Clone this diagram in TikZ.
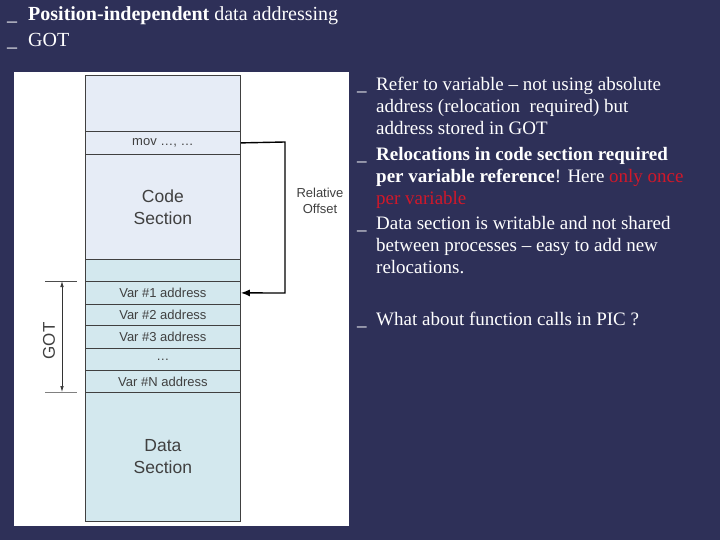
\documentclass[tikz,border=0pt]{standalone}
\usepackage{fontspec}
\setmainfont{Liberation Serif}
\setsansfont{Liberation Sans}
\usetikzlibrary{arrows.meta}
\definecolor{bg}{HTML}{2E3058}
\definecolor{codec}{HTML}{E6ECF6}
\definecolor{datac}{HTML}{D3E8EE}
\definecolor{redt}{HTML}{D0182A}
\newcommand{\bul}{\makebox[19pt][l]{\_}}
\newcommand{\ind}{\hspace*{19pt}}
\tikzset{
  cell/.style={draw=black!75, line width=0.8pt, minimum width=155pt, inner sep=0pt, font=\sffamily\fontsize{13}{15}\selectfont, text=black!75},
  big/.style={font=\sffamily\fontsize{17.5}{22}\selectfont},
  btxt/.style={anchor=north west, text=white, font=\fontsize{19}{22}\selectfont, align=left, inner sep=0pt},
}
\begin{document}
\begin{tikzpicture}[x=1pt,y=-1pt]
\useasboundingbox (0,0) rectangle (720,540);
\fill[bg] (0,0) rectangle (720,540);
\node[btxt, font=\fontsize{20}{28}\selectfont] (t1) at (7,6) {\makebox[21pt][l]{\_}\textbf{Position-independent} data addressing};
\node[btxt, font=\fontsize{20}{28}\selectfont] (t2) at (7,33) {\makebox[21pt][l]{\_}GOT};
\fill[white] (14,72) rectangle (349,526);
% column
\node[cell, fill=codec, minimum height=56pt, anchor=north west] (top) at (85,75) {};
\node[cell, fill=codec, minimum height=23pt, anchor=north west] (mov) at (85,131) {mov \dots, \dots};
\node[cell, fill=codec, minimum height=105pt, anchor=north west, big, align=center] (code) at (85,154) {Code\\Section};
\node[cell, fill=datac, minimum height=22pt, anchor=north west] (pad) at (85,259) {};
\node[cell, fill=datac, minimum height=23pt, anchor=north west] (v1) at (85,281) {Var \#1 address};
\node[cell, fill=datac, minimum height=21pt, anchor=north west] (v2) at (85,304) {Var \#2 address};
\node[cell, fill=datac, minimum height=23pt, anchor=north west] (v3) at (85,325) {Var \#3 address};
\node[cell, fill=datac, minimum height=22pt, anchor=north west] (vd) at (85,348) {\dots};
\node[cell, fill=datac, minimum height=22pt, anchor=north west] (vn) at (85,370) {Var \#N address};
\node[cell, fill=datac, minimum height=129pt, anchor=north west, big, align=center] (data) at (85,392) {Data\\Section};
% arrow
\coordinate (c1) at (285,142);
\coordinate (c2) at (285,293);
\draw[line width=1.4pt, -{Latex[length=9pt,width=7pt]}] (mov.east) -- (c1) -- (c2) -- (v1.east);
\node[font=\sffamily\fontsize{13}{16}\selectfont, text=black!75, align=center] (ro) at (320,201) {Relative\\Offset};
% GOT dimension
\coordinate (g1) at (45,281); \coordinate (g1e) at (77,281);
\coordinate (g2) at (45,392); \coordinate (g2e) at (77,392);
\draw[black!70, line width=0.6pt] (g1) -- (g1e);
\draw[black!50, line width=1pt] (g2) -- (g2e);
\draw[black!80, line width=0.7pt, {Latex[length=6pt,width=3.5pt]}-{Latex[length=6pt,width=3.5pt]}] (62,281) -- (62,392);
\node[rotate=90, font=\sffamily\fontsize{17}{20}\selectfont, text=black!75] (got) at (49,341) {GOT};
% right text
\node[btxt] (b1) at (357,77) {\bul Refer to variable -- not using absolute\\\ind address (relocation\ \ required) but\\\ind address stored in GOT};
\node[btxt] (b2) at (357,147) {\bul\textbf{Relocations in code section required}\\\ind\textbf{per variable reference}! Here \textcolor{redt}{only once}\\\ind\textcolor{redt}{per variable}};
\node[btxt] (b3) at (357,216) {\bul Data section is writable and not shared\\\ind between processes -- easy to add new\\\ind relocations.};
\node[btxt] (b4) at (357,312) {\bul What about function calls in PIC ?};
\end{tikzpicture}
\end{document}
